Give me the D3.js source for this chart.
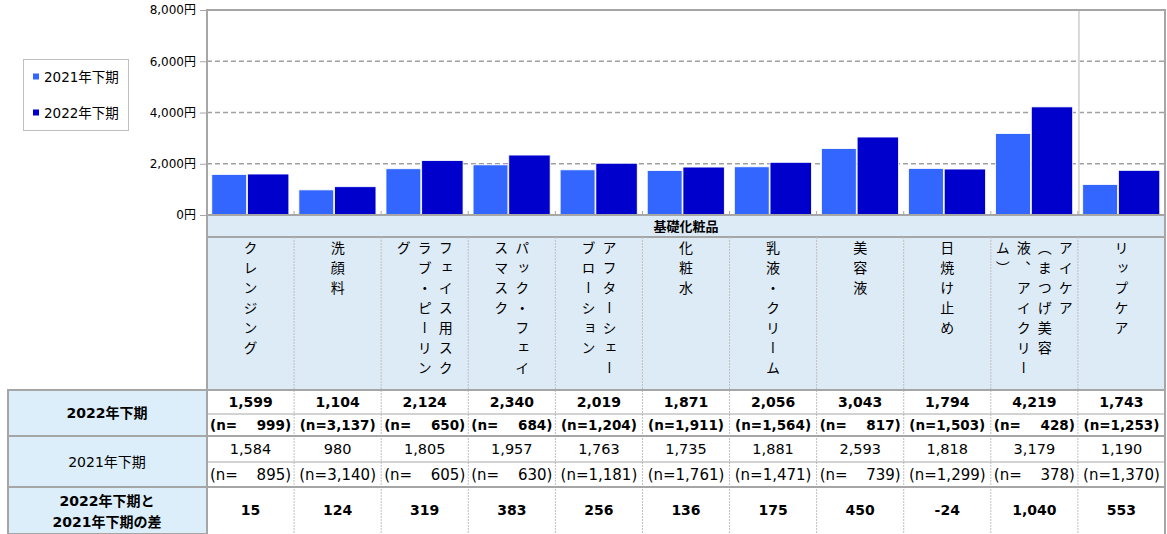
<!DOCTYPE html>
<html lang="ja">
<head>
<meta charset="utf-8">
<title>基礎化粧品</title>
<script src="https://cdn.jsdelivr.net/npm/d3@7"></script>
<style>
  body { margin: 0; background: #fff; }
  text { font-family: "DejaVu Sans", "Noto Sans CJK JP", sans-serif; fill: #000; }
</style>
</head>
<body>
<div id="chart"></div>
<script>
// 基礎化粧品 カテゴリ
var categories = ["クレンジング", "洗顔料", "フェイス用スクラブ・ピーリング", "パック・フェイスマスク",
  "アフターシェーブローション", "化粧水", "乳液・クリーム", "美容液", "日焼け止め",
  "アイケア（まつげ美容液、アイクリーム）", "リップケア"];
// 縦書きの列（右から）
var labelCols = [["クレンジング"], ["洗顔料"], ["フェイス用スク", "ラブ・ピーリン", "グ"],
  ["パック・フェイ", "スマスク"], ["アフターシェー", "ブローション"], ["化粧水"], ["乳液・クリーム"],
  ["美容液"], ["日焼け止め"], ["アイケア", "（まつげ美容", "液、アイクリー", "ム）"], ["リップケア"]];

var series = ["2021年下期", "2022年下期"];
var v2022 = [1599, 1104, 2124, 2340, 2019, 1871, 2056, 3043, 1794, 4219, 1743];
var n2022 = [999, 3137, 650, 684, 1204, 1911, 1564, 817, 1503, 428, 1253];
var v2021 = [1584, 980, 1805, 1957, 1763, 1735, 1881, 2593, 1818, 3179, 1190];
var n2021 = [895, 3140, 605, 630, 1181, 1761, 1471, 739, 1299, 378, 1370];
var diff = [15, 124, 319, 383, 256, 136, 175, 450, -24, 1040, 553];
var yTicks = [0, 2000, 4000, 6000, 8000];

var width = 1167, height = 534;
var plotL = 207, plotR = 1165, plotT = 10, base = 215;
var colors = ["#3366ff", "#0000cc"];
var grey = "#a6a6a6";

var svg = d3.select("#chart").append("svg")
    .attr("width", width)
    .attr("height", height);

var x = d3.scaleBand().domain(categories).range([plotL, plotR]);
var bw = x.bandwidth();
var y = d3.scaleLinear().domain([0, 8000]).range([base, plotT]);
var fmt = function(d) { return d3.format(",")(d).replace("−", "-"); };

// grid
svg.append("g").selectAll("line")
    .data(yTicks.filter(function(d) { return d > 0 && d < 8000; }))
  .enter().append("line")
    .attr("x1", plotL).attr("x2", plotR)
    .attr("y1", function(d) { return y(d); })
    .attr("y2", function(d) { return y(d); })
    .attr("stroke", "#a0a0a0")
    .attr("stroke-width", 1.5)
    .attr("stroke-dasharray", "5,3");

// separator line before last category
svg.append("line")
    .attr("x1", x(categories[10]) + 1).attr("x2", x(categories[10]) + 1)
    .attr("y1", plotT).attr("y2", base)
    .attr("stroke", "#d9d9d9").attr("stroke-width", 2);

// y axis
var yAxis = d3.axisLeft(y).tickValues(yTicks).tickSize(7).tickPadding(4)
    .tickFormat(function(d) { return fmt(d) + "円"; });
var ya = svg.append("g").attr("transform", "translate(" + plotL + ",0)").call(yAxis);
ya.select(".domain").remove();
ya.selectAll(".tick line").attr("stroke", grey);
ya.selectAll(".tick text").attr("font-size", 12).attr("fill", "#333")
    .attr("font-family", "\"DejaVu Sans\", \"Noto Sans CJK JP\", sans-serif");

// bars
var bars = svg.append("g");
bars.selectAll("rect.s21")
    .data(v2021)
  .enter().append("rect")
    .attr("x", function(d, i) { return x(categories[i]) + bw * 0.055; })
    .attr("width", bw * 0.40)
    .attr("y", function(d) { return y(d); })
    .attr("height", function(d) { return base - y(d); })
    .attr("fill", colors[0])
    .attr("stroke", "#fff").attr("stroke-width", 0.8);
bars.selectAll("rect.s22")
    .data(v2022)
  .enter().append("rect")
    .attr("x", function(d, i) { return x(categories[i]) + bw * 0.465; })
    .attr("width", bw * 0.475)
    .attr("y", function(d) { return y(d); })
    .attr("height", function(d) { return base - y(d); })
    .attr("fill", colors[1])
    .attr("stroke", "#fff").attr("stroke-width", 0.8);

// header + label area
svg.append("rect")
    .attr("x", plotL).attr("y", base).attr("width", plotR - plotL).attr("height", 390 - base)
    .attr("fill", "#ddebf7");

// small ticks at category boundaries
svg.append("g").selectAll("line")
    .data(categories.slice(1))
  .enter().append("line")
    .attr("x1", function(d) { return x(d); }).attr("x2", function(d) { return x(d); })
    .attr("y1", base - 4).attr("y2", base)
    .attr("stroke", grey);

// plot frame
svg.append("path")
    .attr("d", "M" + plotL + "," + base + "V" + plotT + "H" + plotR + "V" + base)
    .attr("fill", "none").attr("stroke", grey).attr("stroke-width", 2);
svg.append("line")
    .attr("x1", plotL).attr("x2", plotR).attr("y1", base).attr("y2", base)
    .attr("stroke", grey).attr("stroke-width", 2);

svg.append("text")
    .attr("x", (plotL + plotR) / 2).attr("y", 226).attr("dy", "0.35em")
    .attr("text-anchor", "middle").attr("font-size", 13).attr("font-weight", "bold")
    .text("基礎化粧品");
svg.append("line")
    .attr("x1", plotL).attr("x2", plotR).attr("y1", 237).attr("y2", 237)
    .attr("stroke", grey).attr("stroke-width", 2);

// vertical category labels
labelCols.forEach(function(cols, i) {
  var cx = x(categories[i]) + bw / 2;
  var step = 21;
  cols.forEach(function(s, j) {
    svg.append("text")
        .attr("x", cx + ((cols.length - 1) / 2 - j) * step)
        .attr("y", 241)
        .style("writing-mode", "vertical-rl")
        .style("letter-spacing", "6px")
        .style("font-size", "14px")
        .style("font-family", "\"Noto Sans CJK JP\", sans-serif")
        .text(s);
  });
});

// table
var rows = [
  {y0: 390, y1: 414, vals: v2022, bold: true, n: false, size: 14},
  {y0: 414, y1: 436, vals: n2022, bold: true, n: true, size: 13.5},
  {y0: 436, y1: 462, vals: v2021, bold: false, n: false, size: 14.5},
  {y0: 462, y1: 487, vals: n2021, bold: false, n: true, size: 15},
  {y0: 487, y1: 534, vals: diff, bold: true, n: false, size: 14}
];

rows.forEach(function(r) {
  var g = svg.append("g")
      .attr("font-weight", r.bold ? "bold" : "normal")
      .attr("font-size", r.size);
  r.vals.forEach(function(v, i) {
    var cy = (r.y0 + r.y1) / 2;
    if (r.n && v < 1000) {
      g.append("text").attr("x", x(categories[i]) + 3).attr("y", cy).attr("dy", "0.35em")
          .text("(n=");
      g.append("text").attr("x", x(categories[i]) + bw - 3).attr("y", cy).attr("dy", "0.35em")
          .attr("text-anchor", "end").text(fmt(v) + ")");
    } else {
      g.append("text").attr("x", x(categories[i]) + bw / 2).attr("y", cy).attr("dy", "0.35em")
          .attr("text-anchor", "middle").text(r.n ? "(n=" + fmt(v) + ")" : fmt(v));
    }
  });
});

// row labels
var lab = svg.append("g");
[[390, 436], [436, 487], [487, 534]].forEach(function(r) {
  lab.append("rect").attr("x", 8).attr("y", r[0]).attr("width", plotL - 8).attr("height", r[1] - r[0])
      .attr("fill", "#dbeef9").attr("stroke", grey).attr("stroke-width", 2);
});
lab.append("text").attr("x", 107).attr("y", 413).attr("dy", "0.35em").attr("text-anchor", "middle")
    .attr("font-size", 14).attr("font-weight", "bold").text("2022年下期");
lab.append("text").attr("x", 107).attr("y", 462).attr("dy", "0.35em").attr("text-anchor", "middle")
    .attr("font-size", 14).text("2021年下期");
lab.append("text").attr("x", 107).attr("y", 501).attr("dy", "0.35em").attr("text-anchor", "middle")
    .attr("font-size", 14).attr("font-weight", "bold").text("2022年下期と");
lab.append("text").attr("x", 107).attr("y", 522).attr("dy", "0.35em").attr("text-anchor", "middle")
    .attr("font-size", 14).attr("font-weight", "bold").text("2021年下期の差");

// table grid lines
svg.append("g").selectAll("line")
    .data(categories.slice(1))
  .enter().append("line")
    .attr("x1", function(d) { return x(d); }).attr("x2", function(d) { return x(d); })
    .attr("y1", 237).attr("y2", height)
    .attr("stroke", "#bfbfbf").attr("stroke-dasharray", "2,1");
[[390, 2], [414, 1], [436, 2], [462, 1], [487, 2]].forEach(function(h) {
  svg.append("line").attr("x1", plotL).attr("x2", plotR).attr("y1", h[0]).attr("y2", h[0])
      .attr("stroke", grey).attr("stroke-width", h[1]);
});
[plotL, plotR].forEach(function(px) {
  svg.append("line").attr("x1", px).attr("x2", px).attr("y1", base).attr("y2", height)
      .attr("stroke", grey).attr("stroke-width", 2);
});

// legend
var legend = svg.append("g");
legend.append("rect").attr("x", 23.5).attr("y", 59.5).attr("width", 105).attr("height", 71)
    .attr("fill", "#fff").attr("stroke", "#bfbfbf");
series.forEach(function(s, i) {
  var ly = 77 + i * 36;
  legend.append("rect").attr("x", 33).attr("y", ly - 3.5).attr("width", 6).attr("height", 6)
      .attr("fill", colors[i]);
  legend.append("text").attr("x", 44).attr("y", ly).attr("dy", "0.35em")
      .attr("font-size", 13.5).text(s);
});
</script>
</body>
</html>
